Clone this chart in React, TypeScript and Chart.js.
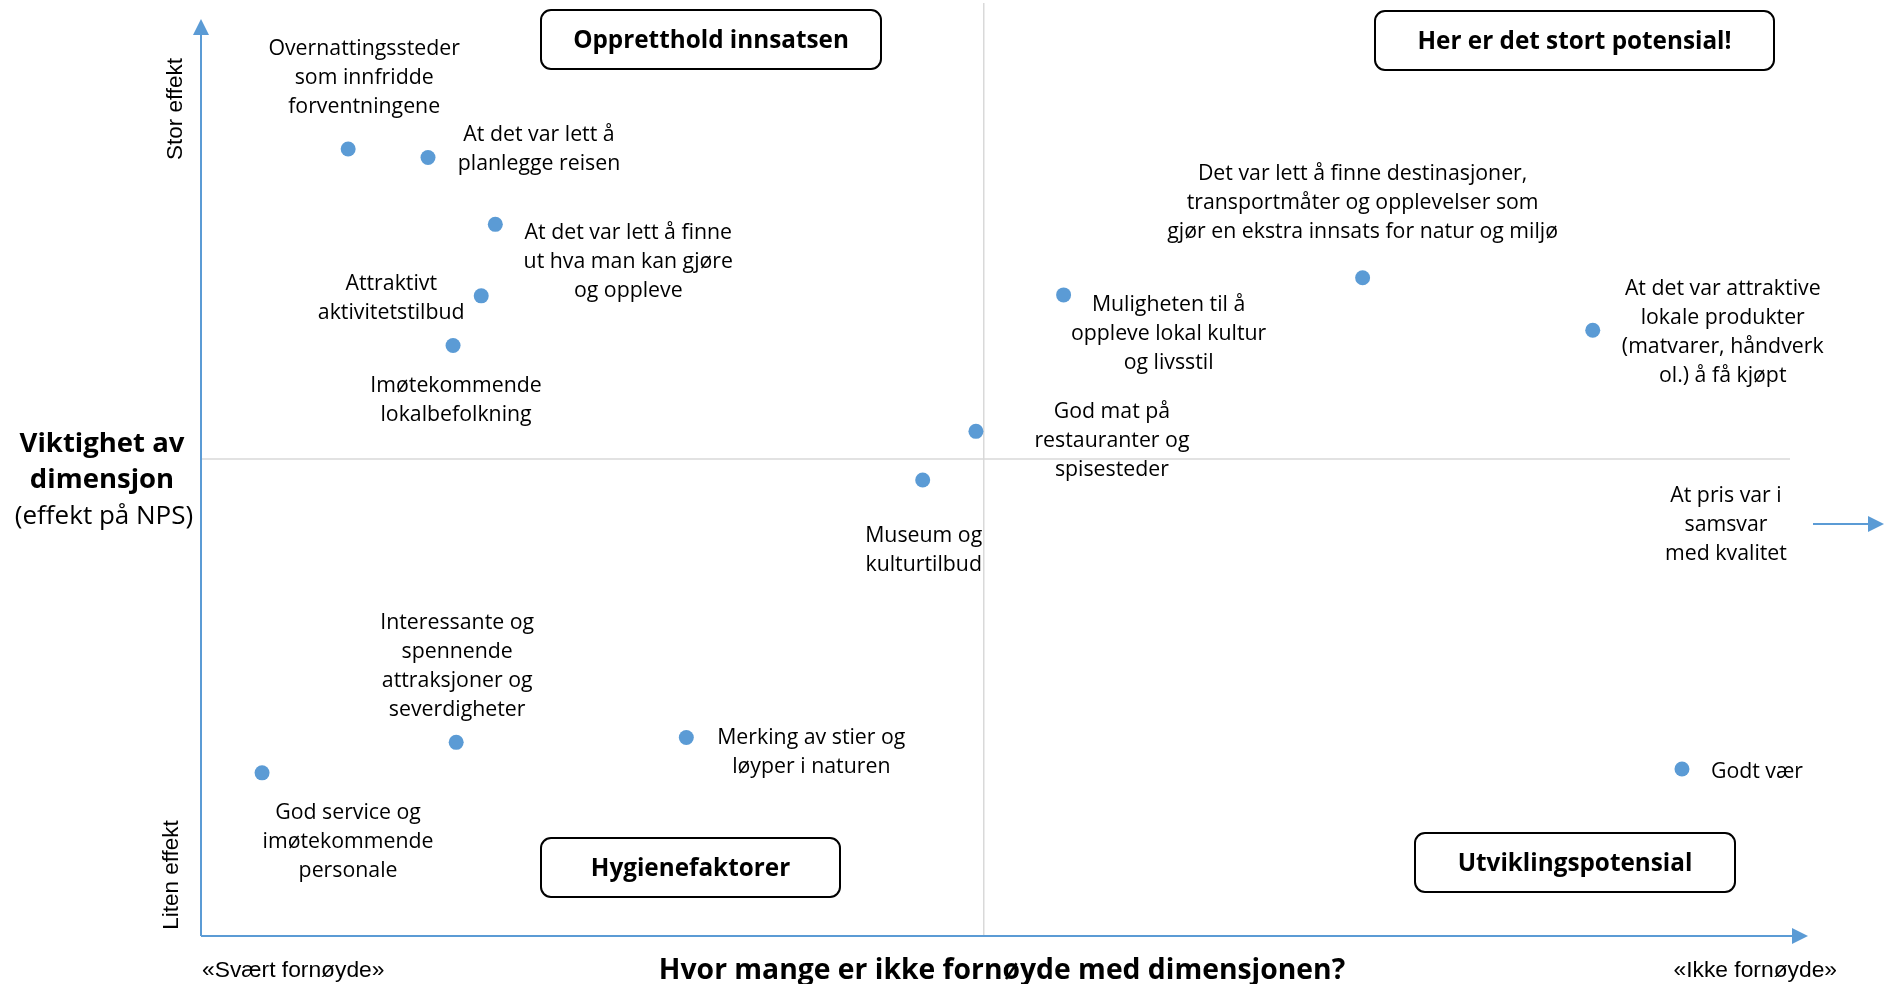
import React, { useEffect, useRef } from "react";
import { Chart, registerables } from "chart.js";

Chart.register(...registerables);

// ---------- DATA ----------
const dimensionLabels: string[][] = [
  ["Overnattingssteder", "som innfridde", "forventningene"],
  ["At det var lett å", "planlegge reisen"],
  ["At det var lett å finne", "ut hva man kan gjøre", "og oppleve"],
  ["Attraktivt", "aktivitetstilbud"],
  ["Imøtekommende", "lokalbefolkning"],
  ["God mat på", "restauranter og", "spisesteder"],
  ["Museum og", "kulturtilbud"],
  ["Muligheten til å", "oppleve lokal kultur", "og livsstil"],
  ["Det var lett å finne destinasjoner,", "transportmåter og opplevelser som", "gjør en ekstra innsats for natur og miljø"],
  ["At det var attraktive", "lokale produkter", "(matvarer, håndverk", "ol.) å få kjøpt"],
  ["Godt vær"],
  ["Interessante og", "spennende", "attraksjoner og", "severdigheter"],
  ["God service og", "imøtekommende", "personale"],
  ["Merking av stier og", "løyper i naturen"],
];

// x: hvor mange er ikke fornøyde (0 = svært fornøyde)
const dissatisfaction = [9.4, 14.5, 18.8, 17.9, 16.1, 49.5, 46.1, 55.1, 74.2, 88.9, 94.6, 16.3, 3.9, 31.0];
// y: viktighet (effekt på NPS)
const importance = [82.5, 81.6, 74.6, 67.1, 61.9, 52.9, 47.8, 67.2, 69.0, 63.5, 17.5, 20.3, 17.1, 20.8];

// Off-scale dimension (beyond the right edge)
const offScaleLabel = ["At pris var i", "samsvar", "med kvalitet"];
const offScaleImportance = 43.2;

const quadrantTitles = ["Oppretthold innsatsen", "Her er det stort potensial!", "Hygienefaktorer", "Utviklingspotensial"];

const xMin = 0;
const xMax = 101.5;
const xMid = 50;
const yMin = 0;
const yMax = 97.8;
const yMid = 50;

// ---------- LAYOUT (label offsets in px relative to each point) ----------
const labelOffsets: [number, number][] = [
  [16, -71.5],
  [111, -8.5],
  [133, 37.5],
  [-90, 2.5],
  [3, 54.5],
  [136, 9.5],
  [1, 70.5],
  [105, 39.5],
  [0, -74.5],
  [130, 2.5],
  [75, 2.5],
  [1, -75.5],
  [86, 69.5],
  [125, 14.5],
];

// box: center x, center y, width, height
const quadrantBoxes: [number, number, number, number][] = [
  [711, 39.5, 340, 59],
  [1574.5, 40.5, 399, 59],
  [690.5, 867.5, 299, 59],
  [1575, 862.5, 320, 59],
];

const BLUE = "#5B9BD5";
const LABEL_FONT = '21.3px "Open Sans"';
const LINE_H = 29;

function roundRect(ctx: CanvasRenderingContext2D, x: number, y: number, w: number, h: number, r: number) {
  ctx.beginPath();
  ctx.moveTo(x + r, y);
  ctx.lineTo(x + w - r, y);
  ctx.arcTo(x + w, y, x + w, y + r, r);
  ctx.lineTo(x + w, y + h - r);
  ctx.arcTo(x + w, y + h, x + w - r, y + h, r);
  ctx.lineTo(x + r, y + h);
  ctx.arcTo(x, y + h, x, y + h - r, r);
  ctx.lineTo(x, y + r);
  ctx.arcTo(x, y, x + r, y, r);
  ctx.closePath();
}

function drawLines(ctx: CanvasRenderingContext2D, lines: string[], cx: number, cy: number, lh: number) {
  const n = lines.length;
  lines.forEach((l, i) => {
    ctx.fillText(l, cx, cy + (i - (n - 1) / 2) * lh);
  });
}

const quadrantPlugin = {
  id: "quadrantPlugin",
  beforeDatasetsDraw(chart: any) {
    const { ctx, chartArea, scales } = chart;
    const x = scales.x;
    const y = scales.y;
    ctx.save();
    ctx.strokeStyle = "#D9D9D9";
    ctx.lineWidth = 1.5;
    const mx = x.getPixelForValue(xMid);
    const my = y.getPixelForValue(yMid);
    ctx.beginPath();
    ctx.moveTo(mx, chartArea.top);
    ctx.lineTo(mx, chartArea.bottom);
    ctx.stroke();
    ctx.beginPath();
    ctx.moveTo(chartArea.left, my);
    ctx.lineTo(chartArea.right, my);
    ctx.stroke();

    // axes
    ctx.strokeStyle = BLUE;
    ctx.fillStyle = BLUE;
    ctx.lineWidth = 2;
    const left = chartArea.left;
    const bottom = chartArea.bottom;
    const yTip = 19;
    const xTip = chartArea.right + 18;
    ctx.beginPath();
    ctx.moveTo(left, bottom);
    ctx.lineTo(left, yTip + 12);
    ctx.stroke();
    ctx.beginPath();
    ctx.moveTo(left, yTip);
    ctx.lineTo(left - 8, yTip + 16);
    ctx.lineTo(left + 8, yTip + 16);
    ctx.closePath();
    ctx.fill();
    ctx.beginPath();
    ctx.moveTo(left, bottom);
    ctx.lineTo(xTip - 12, bottom);
    ctx.stroke();
    ctx.beginPath();
    ctx.moveTo(xTip, bottom);
    ctx.lineTo(xTip - 16, bottom - 8);
    ctx.lineTo(xTip - 16, bottom + 8);
    ctx.closePath();
    ctx.fill();

    // off-scale arrow
    const ay = y.getPixelForValue(offScaleImportance);
    ctx.beginPath();
    ctx.moveTo(chartArea.right + 23, ay);
    ctx.lineTo(chartArea.right + 80, ay);
    ctx.stroke();
    ctx.beginPath();
    ctx.moveTo(chartArea.right + 94, ay);
    ctx.lineTo(chartArea.right + 78, ay - 8);
    ctx.lineTo(chartArea.right + 78, ay + 8);
    ctx.closePath();
    ctx.fill();
    ctx.restore();
  },
  afterDatasetsDraw(chart: any) {
    const { ctx, scales, chartArea } = chart;
    const x = scales.x;
    const y = scales.y;
    ctx.save();
    ctx.fillStyle = "#000";
    ctx.textAlign = "center";
    ctx.textBaseline = "middle";
    ctx.font = LABEL_FONT;
    dimensionLabels.forEach((lines, i) => {
      const px = x.getPixelForValue(dissatisfaction[i]);
      const py = y.getPixelForValue(importance[i]);
      const [dx, dy] = labelOffsets[i];
      drawLines(ctx, lines, px + dx, py + dy, LINE_H);
    });
    const ay = y.getPixelForValue(offScaleImportance);
    drawLines(ctx, offScaleLabel, chartArea.right - 64, ay + 1, LINE_H);

    // quadrant boxes
    quadrantTitles.forEach((t, i) => {
      const [cx, cy, w, h] = quadrantBoxes[i];
      ctx.lineWidth = 2;
      ctx.strokeStyle = "#000";
      ctx.fillStyle = "#fff";
      roundRect(ctx, cx - w / 2, cy - h / 2, w, h, 10);
      ctx.fill();
      ctx.stroke();
      ctx.fillStyle = "#000";
      ctx.font = 'bold 24.3px "Open Sans"';
      ctx.fillText(t, cx, cy + 2);
    });

    // Y-axis title
    ctx.font = 'bold 27.5px "Open Sans"';
    ctx.fillText("Viktighet av", 102, 444);
    ctx.fillText("dimensjon", 102, 480);
    ctx.font = '26px "Open Sans"';
    ctx.fillText("(effekt på NPS)", 104, 517);

    // X-axis title
    ctx.font = 'bold 28.3px "Open Sans"';
    ctx.fillText("Hvor mange er ikke fornøyde med dimensjonen?", 1002, 970.5);

    ctx.font = '22.8px "Liberation Sans"';
    ctx.textAlign = "left";
    ctx.fillText("«Svært fornøyde»", 202, 970.5);
    ctx.textAlign = "right";
    ctx.fillText("«Ikke fornøyde»", 1837, 970.5);

    // rotated y labels
    ctx.textAlign = "center";
    ctx.font = '22.5px "Liberation Sans"';
    ctx.save();
    ctx.translate(176, 109);
    ctx.rotate(-Math.PI / 2);
    ctx.fillText("Stor effekt", 0, 0);
    ctx.restore();
    ctx.save();
    ctx.translate(172, 875);
    ctx.rotate(-Math.PI / 2);
    ctx.fillText("Liten effekt", 0, 0);
    ctx.restore();

    ctx.restore();
  },
};

export default function App() {
  const canvasRef = useRef<HTMLCanvasElement | null>(null);

  useEffect(() => {
    if (!canvasRef.current) return;
    const chart = new Chart(canvasRef.current, {
      type: "scatter",
      data: {
        datasets: [
          {
            data: dissatisfaction.map((v, i) => ({ x: v, y: importance[i] })),
            backgroundColor: BLUE,
            borderWidth: 0,
            pointRadius: 7.5,
            pointHoverRadius: 7.5,
          },
        ],
      },
      options: {
        animation: false,
        responsive: false,
        devicePixelRatio: 1,
        layout: { autoPadding: false, padding: { left: 201, right: 105, top: 3, bottom: 48 } },
        plugins: { legend: { display: false }, tooltip: { enabled: false } },
        scales: {
          x: { type: "linear", min: xMin, max: xMax, display: false },
          y: { type: "linear", min: yMin, max: yMax, display: false },
        },
      },
      plugins: [quadrantPlugin],
    });
    return () => chart.destroy();
  }, []);

  return (
    <div style={{ position: "fixed", left: 0, top: 0, width: 1895, height: 984, background: "#fff" }}>
      <canvas ref={canvasRef} width={1895} height={984} style={{ width: 1895, height: 984 }} />
    </div>
  );
}
